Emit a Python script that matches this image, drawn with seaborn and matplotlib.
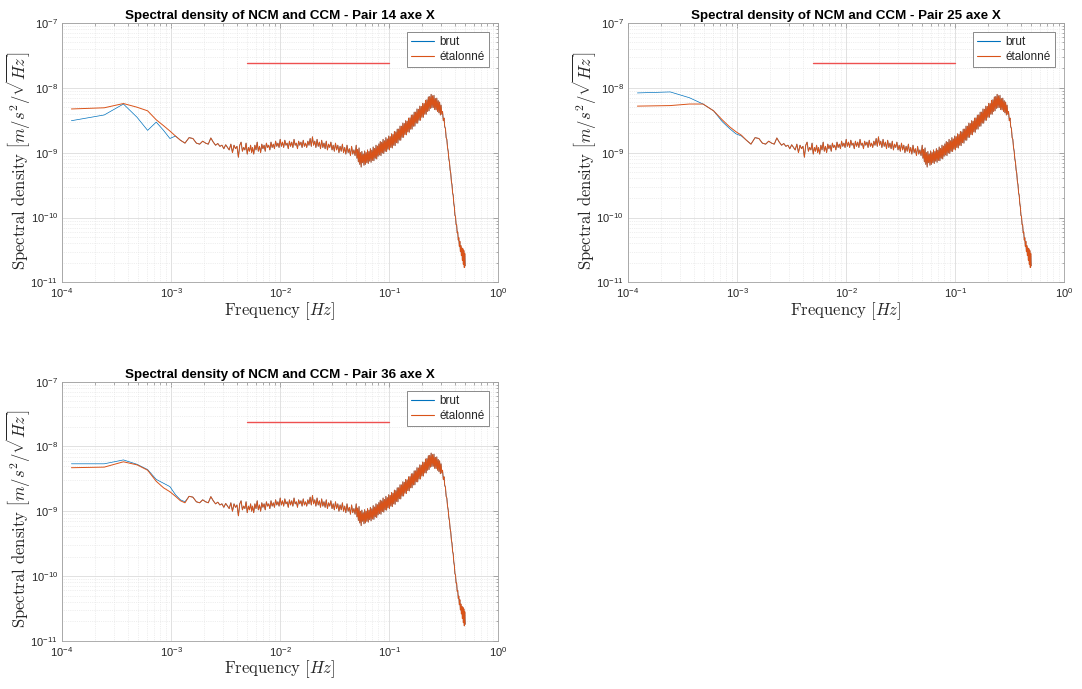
import numpy as np
import matplotlib
matplotlib.use('Agg')
import matplotlib.pyplot as plt
import seaborn as sns
from matplotlib.ticker import LogLocator, NullFormatter

# --- data (PSD values in units of 1e-9 m/s^2/sqrt(Hz)) ---

# first frequency bins of the spectrum, df = 1/8192 Hz
freq_low = [0.000122, 0.000244, 0.000366, 0.000488, 0.000610, 0.000732,
            0.000854, 0.000977, 0.001099, 0.001221, 0.001343]

brut_14_low = [3.1, 3.8, 5.6, 3.5, 2.2, 2.95, 2.2, 1.65, 1.8, 1.55, 1.4]
etal_14_low = [4.7, 4.9, 5.7, 5.0, 4.4, 3.2, 2.6, 2.15, 1.8, 1.55, 1.4]
brut_25_low = [8.3, 8.6, 7.0, 5.6, 4.4, 3.0, 2.35, 1.95, 1.8, 1.55, 1.35]
etal_25_low = [5.2, 5.3, 5.6, 5.6, 4.4, 3.2, 2.5, 2.1, 1.85, 1.55, 1.35]
brut_36_low = [5.4, 5.4, 6.2, 5.3, 4.4, 3.1, 2.7, 2.4, 1.8, 1.5, 1.4]
etal_36_low = [4.7, 4.8, 5.8, 5.2, 4.3, 2.9, 2.3, 2.0, 1.7, 1.45, 1.35]

# common part of the spectrum (both signals overlap from ~1.4 mHz on)
# bins 12..45 of the df grid
psd_a = [1.7, 1.65, 1.4, 1.35, 1.5, 1.4, 1.35, 1.68, 1.45, 1.3, 1.38, 1.25,
         1.3, 1.15, 1.32, 1.2, 1.1, 1.35, 1.0, 1.3, 1.15, 1.25, 0.85, 1.3,
         1.45, 1.05, 1.2, 1.1, 1.4, 0.95, 1.2, 1.05, 1.3, 1.0]
# 5.6 mHz -> 50 mHz
psd_b = [1.2, 0.95, 1.3, 1.1, 1.45, 1.05, 1.25, 1.0, 1.35, 1.15, 1.3, 1.05,
         1.4, 1.2, 1.3, 1.1, 1.45, 1.2, 1.35, 1.15, 1.5, 1.25, 1.4, 1.2,
         1.6, 1.25, 1.45, 1.2, 1.55, 1.3, 1.4, 1.15, 1.5, 1.25, 1.45, 1.2,
         1.6, 1.3, 1.4, 1.15, 1.5, 1.3, 1.45, 1.2, 1.55, 1.25, 1.4, 1.2,
         1.5, 1.3, 1.65, 1.25,
         1.75, 1.3, 1.5, 1.2, 1.6, 1.25, 1.45, 1.15, 1.55, 1.2, 1.4, 1.15,
         1.5, 1.1, 1.35, 1.2, 1.45, 1.1, 1.3, 1.05, 1.4, 1.1, 1.3, 1.0,
         1.25, 1.05, 1.35, 1.0, 1.2, 0.95, 1.3, 1.0, 1.15, 0.9, 1.25, 0.95,
         1.1, 0.9]
# 50 mHz -> 0.3 Hz
psd_c = [1.3, 0.82, 1.12, 0.72, 1.18, 0.66, 1.0, 0.6, 1.04, 0.7, 0.95, 0.64,
         1.06, 0.66, 1.0, 0.7, 1.1, 0.68, 1.04, 0.74, 1.15, 0.71, 1.09, 0.76,
         1.22, 0.75, 1.16, 0.82, 1.3, 0.8, 1.26, 0.88, 1.36, 0.92, 1.48, 0.9,
         1.44, 0.99, 1.6, 0.97, 1.52, 1.05, 1.7, 1.04, 1.62, 1.13, 1.8, 1.1,
         1.76, 1.2, 1.95, 1.18, 1.9, 1.3, 2.12, 1.28, 2.08, 1.42, 2.3, 1.4,
         2.3, 1.56, 2.56, 1.55, 2.55, 1.72, 2.85, 1.72, 2.8, 1.9, 3.1, 1.88,
         3.05, 2.08, 3.4, 2.06, 3.42, 2.3, 3.78, 2.3, 3.8, 2.55, 4.2, 2.56,
         4.2, 2.85, 4.7, 2.84, 4.65, 3.15, 5.2, 3.15, 5.15, 3.5, 5.75, 3.5,
         5.7, 3.9, 6.4, 3.9, 6.5, 4.3, 7.2, 4.4, 7.3, 4.8, 7.9, 4.9,
         7.5, 4.95, 7.6, 4.6, 6.8, 4.55, 6.9, 4.3, 6.3, 4.1, 6.0, 3.8]
# 0.3 Hz -> 0.5 Hz (roll-off)
psd_d = [5.4, 3.9, 4.3, 3.1, 3.4, 2.5, 2.35, 1.7, 1.6, 1.2, 1.05, 0.8,
         0.71, 0.54, 0.48, 0.36, 0.32, 0.24, 0.22, 0.165, 0.145, 0.108,
         0.104, 0.078, 0.078, 0.058, 0.06, 0.045, 0.049, 0.036, 0.043, 0.03,
         0.037, 0.026, 0.034, 0.022, 0.033, 0.019, 0.031, 0.017, 0.028, 0.018]

threshold_freq = [5e-3, 1e-1]
threshold_level = 2.4e-8

freq_ticks = [1e-4, 1e-3, 1e-2, 1e-1, 1e0]
psd_ticks = [1e-11, 1e-10, 1e-9, 1e-8, 1e-7]

pairs = ['14', '25', '36']
brut_low = [brut_14_low, brut_25_low, brut_36_low]
etal_low = [etal_14_low, etal_25_low, etal_36_low]

BLUE = '#0072BD'
ORANGE = '#D95319'
TXT = '#262626'


def tail_freq():
    fa = np.arange(12, 46) / 8192.0
    fb = np.geomspace(5.6e-3, 0.05, len(psd_b), endpoint=False)
    fc = np.geomspace(0.05, 0.3, len(psd_c), endpoint=False)
    fd = np.linspace(0.3, 0.5, len(psd_d))
    return np.concatenate([fa, fb, fc, fd])


def build_spectrum(low):
    f = np.concatenate([np.array(freq_low), tail_freq()])
    y = np.concatenate([low, psd_a, psd_b, psd_c, psd_d]) * 1e-9
    return f, y


def style_axes(ax, title):
    ax.set_xscale('log')
    ax.set_yscale('log')
    ax.set_xticks(freq_ticks)
    ax.set_yticks(psd_ticks)
    ax.set_xlim(freq_ticks[0], freq_ticks[-1])
    ax.set_ylim(psd_ticks[0], psd_ticks[-1])
    ax.xaxis.set_minor_locator(LogLocator(base=10, subs=np.arange(2, 10), numticks=20))
    ax.yaxis.set_minor_locator(LogLocator(base=10, subs=np.arange(2, 10), numticks=20))
    ax.xaxis.set_minor_formatter(NullFormatter())
    ax.yaxis.set_minor_formatter(NullFormatter())
    ax.grid(True, which='major', color='#dcdcdc', lw=0.6, ls='-')
    ax.grid(True, which='minor', color='#e0e0e0', lw=0.5, ls=':')
    ax.set_axisbelow(True)
    ax.tick_params(which='both', direction='in', top=True, right=True,
                   colors='#8a8a8a', labelcolor=TXT, labelsize=8)
    ax.tick_params(which='major', length=3.5, width=0.5, pad=3)
    ax.tick_params(which='minor', length=1.8, width=0.5)
    for sp in ax.spines.values():
        sp.set_color('#a0a0a0')
        sp.set_linewidth(0.6)
    ax.set_title(title, fontsize=9.6, fontweight='bold', color='black', pad=3)
    ax.set_xlabel(r'$\mathrm{Frequency}\ [Hz]$', fontsize=12, color=TXT, labelpad=0)
    ax.set_ylabel(r'$\mathrm{Spectral\ density}\ \left[m/s^2/\sqrt{Hz}\right]$',
                  fontsize=12, color=TXT)
    ax.yaxis.set_label_coords(-0.068, 0.47)


sns.set_theme(style='white')
plt.rcParams['font.family'] = ['Liberation Sans', 'DejaVu Sans']
plt.rcParams['mathtext.fontset'] = 'cm'

fig = plt.figure(figsize=(10.82, 6.89), dpi=100)
positions = [[0.0573, 0.590, 0.403, 0.377],
             [0.5804, 0.590, 0.403, 0.377],
             [0.0573, 0.070, 0.403, 0.376]]

for pair, bl, el, pos in zip(pairs, brut_low, etal_low, positions):
    ax = fig.add_axes(pos)
    fb, yb = build_spectrum(bl)
    fe, ye = build_spectrum(el)
    sns.lineplot(x=fb, y=yb, ax=ax, color=BLUE, lw=0.5, label='brut',
                 estimator=None, sort=False)
    sns.lineplot(x=fe, y=ye, ax=ax, color=ORANGE, lw=0.7, label='étalonné',
                 estimator=None, sort=False)
    sns.lineplot(x=threshold_freq, y=[threshold_level] * 2, ax=ax,
                 color='#ee5050', lw=1.0, legend=False)
    style_axes(ax, f'Spectral density of NCM and CCM - Pair {pair} axe X')
    leg = ax.legend(loc='upper right', fontsize=8.5, fancybox=False,
                    framealpha=1, edgecolor='#777777', handlelength=2.0,
                    borderaxespad=0.8, labelspacing=0.2, handletextpad=0.4,
                    borderpad=0.35)
    leg.get_frame().set_linewidth(0.6)
    for line in leg.get_lines():
        line.set_linewidth(0.8)

fig.savefig('out.png', dpi=100, facecolor='white')
